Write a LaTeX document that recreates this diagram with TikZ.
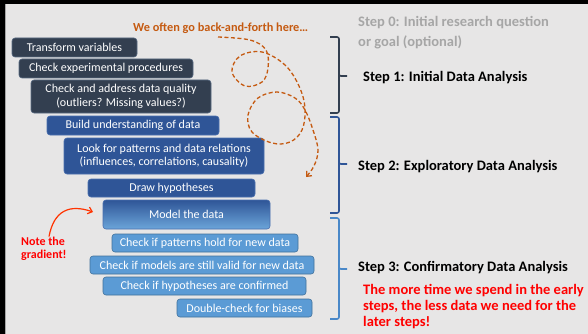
\documentclass[tikz,border=0pt]{standalone}
\usepackage{fontspec}
\setmainfont{Carlito}
\usetikzlibrary{arrows.meta}
\definecolor{bg}{HTML}{E7E6E6}
\definecolor{navy}{HTML}{333F50}
\definecolor{navyedge}{HTML}{586A82}
\definecolor{midblue}{HTML}{2F5597}
\definecolor{midedge}{HTML}{4A6FAE}
\definecolor{lightblue}{HTML}{5B9BD5}
\definecolor{lbedge}{HTML}{41719C}
\definecolor{brace3}{HTML}{4A88C8}
\definecolor{orng}{HTML}{C55A11}
\definecolor{stepgray}{HTML}{A6A6A6}
\definecolor{notered}{HTML}{FF3300}
\tikzset{
  box/.style={rounded corners=3pt, inner sep=0pt, align=center, text=white,
    font=\fontsize{12}{13.5}\selectfont, line width=0.6pt},
  darkbox/.style={box, fill=navy, draw=navyedge},
  midbox/.style={box, fill=midblue, draw=midedge},
  gradbox/.style={box, top color=midblue, bottom color=lightblue!90!white, draw=midedge},
  lightbox/.style={box, fill=lightblue, draw=lbedge},
  brace/.style={line width=1.6pt, rounded corners=2pt},
  steptext/.style={anchor=west, font=\bfseries\fontsize{14.5}{17}\selectfont, inner sep=0pt},
}
\begin{document}
\begin{tikzpicture}[x=1pt,y=-1pt]
\useasboundingbox (0,0) rectangle (588,334);
\fill[bg] (0,0) rectangle (588,334);
\fill[black] (0,0) rectangle (588,4);
\fill[black] (0,0) rectangle (5,334);
\draw[gray!70, line width=0.8pt] (5.6,4) -- (5.6,334);

% boxes
\node[darkbox, minimum width=125pt, minimum height=19pt] (tv) at (74.5,47.5) {Transform variables};
\node[darkbox, minimum width=174pt, minimum height=19pt] (cep) at (106,68.5) {Check experimental procedures};
\node[darkbox, minimum width=180pt, minimum height=33pt] (cadq) at (121,96.5) {Check and address data quality\\(outliers? Missing values?)};
\node[midbox, minimum width=172pt, minimum height=19pt] (bud) at (133,125.5) {Build understanding of data};
\node[midbox, minimum width=200pt, minimum height=36pt] (lfp) at (164,156) {Look for patterns and data relations\\(influences, correlations, causality)};
\node[midbox, minimum width=167pt, minimum height=18pt] (dh) at (171.5,188) {Draw hypotheses};
\node[gradbox, minimum width=167pt, minimum height=29pt] (mtd) at (186.5,214.5) {Model the data};
\node[lightbox, minimum width=186pt, minimum height=18pt] (cph) at (205,243) {Check if patterns hold for new data};
\node[lightbox, minimum width=224pt, minimum height=18pt] (cmv) at (202,265) {Check if models are still valid for new data};
\node[lightbox, minimum width=203pt, minimum height=18pt] (chc) at (204.5,286) {Check if hypotheses are confirmed};
\node[lightbox, minimum width=135pt, minimum height=18pt] (dcb) at (244.5,308) {Double-check for biases};

% braces
\draw[brace, navy] (330,37) -| (339,76) -- (347,76);
\draw[brace, navy] (339,70) |- (330,113);
\draw[brace, midblue] (330,117) -| (339,164) -- (347,164);
\draw[brace, midblue] (339,158) |- (330,213);
\draw[brace, brace3] (330,218) -| (339,269) -- (347,269);
\draw[brace, brace3] (339,263) |- (330,319);

% step texts
\node[steptext, text=stepgray, align=left, font=\bfseries\fontsize{14.5}{20}\selectfont] (s0) at (358,33) {Step 0: Initial research question\\or goal (optional)};
\node[steptext] (s1) at (363,78) {Step 1: Initial Data Analysis};
\node[steptext] (s2) at (358,167) {Step 2: Exploratory Data Analysis};
\node[steptext] (s3) at (358,268) {Step 3: Confirmatory Data Analysis};
\node[steptext, text=red, align=left, font=\bfseries\fontsize{14.5}{16}\selectfont] (more) at (363,307) {The more time we spend in the early\\steps, the less data we need for the\\later steps!};

% back-and-forth
\node[anchor=west, inner sep=0pt, text=orng, font=\bfseries\fontsize{12.3}{14}\selectfont] (bf) at (133,28) {We often go back-and-forth here…};
\draw[orng, line width=1.3pt, dash pattern=on 4pt off 2.5pt, -{Straight Barb[length=4pt,width=7pt]}]
  plot[smooth, tension=0.6] coordinates {(218,37) (250,40) (266,50) (268,68) (262,82) (245,86) (232,72) (240,56) (262,52) (285,65) (299,86) (305,108) (302,130) (290,142) (272,143) (252,132) (248,115) (258,98) (277,92) (295,98) (305,110) (313,130) (318,150) (314,166) (306,177)};

% note
\node[anchor=west, inner sep=0pt, text=red, align=left, font=\bfseries\fontsize{12}{13}\selectfont] (note) at (21,248.5) {Note the\\gradient!};
\coordinate (notetip) at (93,212);
\draw[notered, line width=1.2pt, -{Straight Barb[length=4pt,width=7pt]}] (note.north -| 49,0) .. controls (54,210) and (70,204) .. (notetip);
\end{tikzpicture}
\end{document}
